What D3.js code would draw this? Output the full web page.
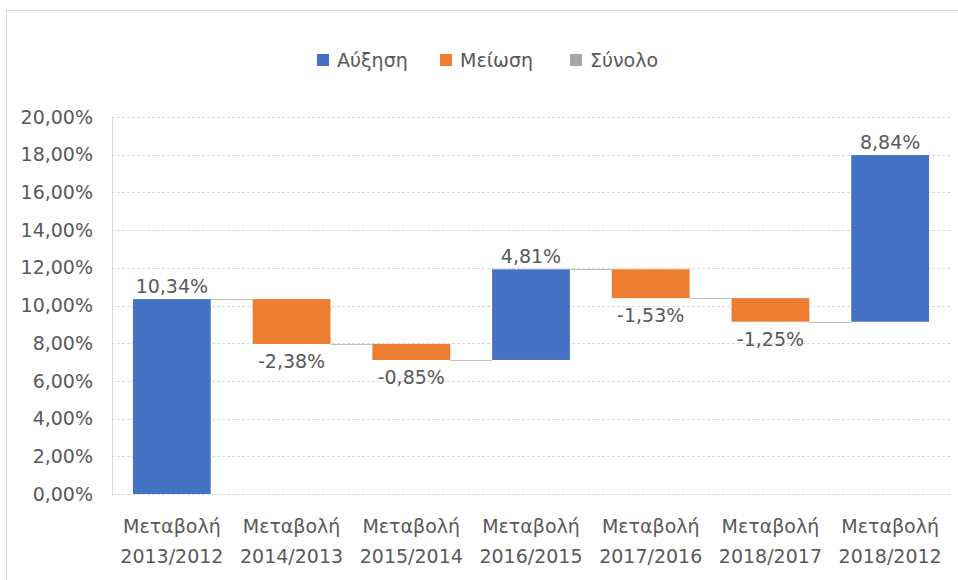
<!DOCTYPE html>
<html>
<head>
<meta charset="utf-8">
<script src="https://cdn.jsdelivr.net/npm/d3@7"></script>
<style>
  body { margin: 0; background: #fff; }
  text { font-family: "DejaVu Sans", sans-serif; fill: #595959; }
</style>
</head>
<body>
<svg id="chart" width="958" height="580"></svg>
<script>
// waterfall values (percent change)
const categories = ["2013/2012", "2014/2013", "2015/2014", "2016/2015", "2017/2016", "2018/2017", "2018/2012"];
const catPrefix = "Μεταβολή";
const changes = [10.34, -2.38, -0.85, 4.81, -1.53, -1.25, 8.84];
const yTicks = [0, 2, 4, 6, 8, 10, 12, 14, 16, 18, 20];
const legendNames = ["Αύξηση", "Μείωση", "Σύνολο"];
const legendColors = ["#4472C4", "#ED7D31", "#A5A5A5"];

const svg = d3.select("#chart");
const W = 958, H = 580;
const margin = {left: 112, right: 8, top: 117, bottom: 86};
const fs = 19;

// outer frame
svg.append("rect")
    .attr("x", 6.5).attr("y", 10.5)
    .attr("width", W + 10).attr("height", H + 10)
    .attr("fill", "none").attr("stroke", "#d9d9d9");

const x = d3.scaleBand()
    .domain(categories)
    .range([margin.left, W - margin.right])
    .paddingInner(0.35).paddingOuter(0.175);

const y = d3.scaleLinear().domain([0, 20]).range([H - margin.bottom, margin.top]);

const fmt = v => (v < 0 ? "-" : "") + d3.format(".2f")(Math.abs(v)).replace(".", ",") + "%";

// running totals
let run = 0;
const bars = changes.map((v, i) => {
    const start = run;
    run += v;
    return {cat: categories[i], v, start, end: run};
});

// gridlines
svg.append("g").selectAll("line").data(yTicks).join("line")
    .attr("x1", margin.left).attr("x2", W - margin.right)
    .attr("y1", d => Math.round(y(d)) + 0.5).attr("y2", d => Math.round(y(d)) + 0.5)
    .attr("stroke", "#d9d9d9").attr("stroke-dasharray", "3,2");

// left axis line
svg.append("line")
    .attr("x1", margin.left + 0.5).attr("x2", margin.left + 0.5)
    .attr("y1", y(20)).attr("y2", y(0))
    .attr("stroke", "#d9d9d9");

// y labels
svg.append("g").selectAll("text").data(yTicks).join("text")
    .attr("x", 93).attr("y", d => y(d))
    .attr("dy", "0.35em")
    .attr("text-anchor", "end")
    .attr("font-size", fs)
    .text(d => fmt(d));

// connectors
svg.append("g").selectAll("line").data(bars.slice(0, -1)).join("line")
    .attr("x1", (d, i) => x(d.cat) + x.bandwidth())
    .attr("x2", (d, i) => x(categories[i + 1]))
    .attr("y1", d => Math.round(y(d.end)) + 0.5)
    .attr("y2", d => Math.round(y(d.end)) + 0.5)
    .attr("stroke", "#bfbfbf");

// bars
svg.append("g").selectAll("rect").data(bars).join("rect")
    .attr("x", d => x(d.cat))
    .attr("width", x.bandwidth())
    .attr("y", d => y(Math.max(d.start, d.end)))
    .attr("height", d => Math.abs(y(d.start) - y(d.end)))
    .attr("fill", d => d.v >= 0 ? legendColors[0] : legendColors[1]);

// value labels
svg.append("g").selectAll("text").data(bars).join("text")
    .attr("x", d => x(d.cat) + x.bandwidth() / 2)
    .attr("y", d => d.v >= 0 ? y(d.end) - 6 : y(d.end) + 24)
    .attr("text-anchor", "middle")
    .attr("font-size", fs)
    .text(d => fmt(d.v));

// x labels
const xl = svg.append("g").selectAll("text").data(categories).join("text")
    .attr("x", d => x(d) + x.bandwidth() / 2)
    .attr("text-anchor", "middle")
    .attr("font-size", fs);
xl.append("tspan").attr("x", d => x(d) + x.bandwidth() / 2).attr("y", 533).text(catPrefix);
xl.append("tspan").attr("x", d => x(d) + x.bandwidth() / 2).attr("y", 563).text(d => d);

// legend
const legendX = [317, 440, 570];
const lg = svg.append("g").selectAll("g").data(legendNames).join("g")
    .attr("transform", (d, i) => `translate(${legendX[i]},60)`);
lg.append("rect").attr("x", 0).attr("y", -6).attr("width", 12).attr("height", 12)
    .attr("fill", (d, i) => legendColors[i]);
lg.append("text").attr("x", 20).attr("dy", "0.35em").attr("font-size", fs).text(d => d);
</script>
</body>
</html>
